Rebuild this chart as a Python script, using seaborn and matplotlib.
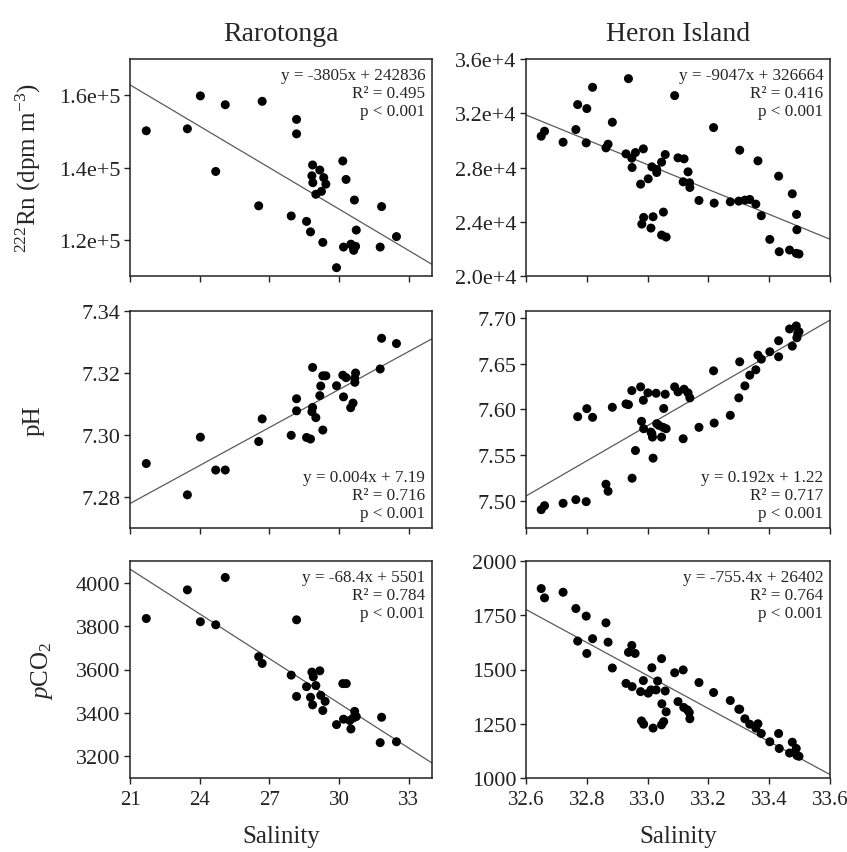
import numpy as np
import pandas as pd
import matplotlib
matplotlib.use("Agg")
import matplotlib.pyplot as plt
from matplotlib.ticker import FuncFormatter, FixedLocator
import seaborn as sns

# ---------------- data ----------------
# Rarotonga: 222Rn vs salinity
raro_rn_sal = [21.7, 23.47, 24.03, 25.1, 26.69, 24.69, 26.54, 28.17, 28.17, 28.86,
               29.17, 28.83, 28.87, 29.34, 29.43, 29.24, 29.0, 30.16, 30.3, 30.66,
               31.83, 27.94, 28.6, 28.77, 29.3, 30.74, 32.47, 30.19, 30.51, 30.6,
               30.71, 30.63, 31.77, 29.89]
raro_rn_val = [150150, 150700, 159800, 157350, 158300, 138900, 129400, 153300, 149300, 140700,
               139300, 137700, 135800, 137200, 135400, 133400, 132600, 141800, 136700, 131000,
               129200, 126600, 125100, 122200, 119300, 122700, 120900, 118000, 118800, 118000,
               118200, 117100, 118000, 112300]

# Rarotonga: pH vs salinity
raro_ph_sal = [21.7, 23.47, 24.03, 24.69, 25.1, 26.54, 26.69, 27.94, 28.17, 28.17,
               28.6, 28.77, 28.86, 28.86, 28.83, 29.0, 29.17, 29.21, 29.3, 29.3,
               29.43, 29.89, 30.16, 30.3, 30.19, 30.71, 30.67, 30.68, 30.5, 30.6,
               31.77, 31.83, 32.47]
raro_ph_val = [7.2908, 7.2807, 7.2993, 7.2887, 7.2887, 7.2979, 7.3052, 7.2999, 7.3117, 7.3078,
               7.2992, 7.2987, 7.3218, 7.3089, 7.3075, 7.3056, 7.3127, 7.3158, 7.3016, 7.3191,
               7.3191, 7.3159, 7.3193, 7.3185, 7.3123, 7.3200, 7.3183, 7.3170, 7.3088, 7.3103,
               7.3213, 7.3312, 7.3295]

# Rarotonga: pCO2 vs salinity
raro_co2_sal = [21.7, 23.47, 24.03, 24.69, 25.1, 26.54, 26.69, 28.17, 27.94, 28.17,
                28.6, 28.77, 28.86, 28.83, 28.89, 29.17, 29.0, 29.21, 29.4, 29.3,
                29.89, 30.16, 30.31, 30.19, 30.51, 30.67, 30.74, 30.6, 30.46, 31.83,
                31.77, 32.47]
raro_co2_val = [3835, 3967, 3820, 3806, 4024, 3659, 3628, 3829, 3574, 3476,
                3521, 3472, 3437, 3588, 3566, 3594, 3526, 3481, 3453, 3411,
                3346, 3535, 3535, 3371, 3326, 3407, 3383, 3376, 3365, 3380,
                3263, 3267]

# Heron Island: 222Rn vs salinity
heron_rn_sal = [32.65, 32.661, 32.722, 32.764, 32.77, 32.8, 32.798, 32.819, 32.863, 32.87,
                32.884, 32.929, 32.937, 32.948, 32.96, 32.949, 32.986, 32.977, 32.987, 32.981,
                33.002, 33.014, 33.03, 33.03, 33.018, 33.011, 33.046, 33.058, 33.052, 33.046,
                33.061, 33.089, 33.1, 33.12, 33.133, 33.117, 33.138, 33.139, 33.169, 33.217,
                33.219, 33.272, 33.303, 33.3, 33.32, 33.336, 33.356, 33.363, 33.374, 33.402,
                33.431, 33.433, 33.467, 33.476, 33.49, 33.491, 33.489, 33.498]
heron_rn_val = [30307, 30675, 29865, 30798, 32638, 32344, 29816, 33914, 29448, 29718,
                31337, 29006, 34552, 28687, 29104, 28000, 29374, 26773, 24319, 23828,
                27166, 28049, 27853, 27632, 24368, 23533, 28393, 28957, 24712, 23018,
                22871, 33301, 28712, 28638, 27681, 26945, 26871, 26528, 25570, 30945,
                25374, 25472, 29276, 25522, 25595, 25644, 25301, 28491, 24442, 22699,
                27362, 21792, 21914, 26061, 24540, 23411, 21669, 21620]

# Heron Island: pH vs salinity
heron_ph_sal = [32.65, 32.661, 32.722, 32.764, 32.798, 32.77, 32.8, 32.819, 32.863, 32.87,
                32.884, 32.929, 32.937, 32.948, 32.949, 32.96, 32.977, 32.986, 32.98, 32.987,
                33.001, 33.011, 33.014, 33.016, 33.018, 33.028, 33.03, 33.037, 33.046, 33.051,
                33.058, 33.053, 33.061, 33.089, 33.1, 33.117, 33.12, 33.133, 33.139, 33.169,
                33.217, 33.219, 33.272, 33.3, 33.303, 33.32, 33.336, 33.356, 33.363, 33.374,
                33.402, 33.431, 33.431, 33.467, 33.476, 33.489, 33.491, 33.494, 33.498]
heron_ph_val = [7.4901, 7.4945, 7.4971, 7.5011, 7.4989, 7.5921, 7.6009, 7.5914, 7.5180, 7.5103,
                7.6024, 7.6061, 7.6053, 7.6207, 7.5246, 7.5550, 7.6248, 7.6101, 7.5870, 7.5789,
                7.6182, 7.5752, 7.5734, 7.5697, 7.5466, 7.6178, 7.5844, 7.5826, 7.5697, 7.5804,
                7.6167, 7.6011, 7.5789, 7.6248, 7.6193, 7.5679, 7.6222, 7.6182, 7.6127, 7.5804,
                7.6424, 7.5851, 7.5936, 7.6127, 7.6523, 7.6259, 7.6376, 7.6435, 7.6596, 7.6552,
                7.6633, 7.6754, 7.6578, 7.6883, 7.6695, 7.6916, 7.6787, 7.6835, 7.6853]

# Heron Island: pCO2 vs salinity
heron_co2_sal = [32.65, 32.661, 32.722, 32.764, 32.798, 32.77, 32.8, 32.819, 32.863, 32.87,
                 32.884, 32.929, 32.937, 32.948, 32.959, 32.949, 32.977, 32.986, 32.98, 32.987,
                 33.002, 33.014, 33.011, 33.018, 33.028, 33.033, 33.046, 33.047, 33.058, 33.061,
                 33.046, 33.053, 33.089, 33.1, 33.117, 33.119, 33.131, 33.137, 33.139, 33.169,
                 33.217, 33.272, 33.3, 33.303, 33.32, 33.336, 33.356, 33.363, 33.374, 33.402,
                 33.431, 33.433, 33.467, 33.476, 33.489, 33.491, 33.498]
heron_co2_val = [1873, 1830, 1856, 1781, 1746, 1631, 1574, 1642, 1715, 1626,
                 1507, 1436, 1579, 1611, 1574, 1421, 1398, 1449, 1263, 1248,
                 1391, 1508, 1406, 1230, 1406, 1447, 1550, 1342, 1401, 1305,
                 1245, 1260, 1485, 1352, 1498, 1325, 1314, 1302, 1273, 1440,
                 1394, 1357, 1317, 1317, 1273, 1248, 1230, 1250, 1205, 1167,
                 1205, 1136, 1115, 1165, 1136, 1104, 1100]

# regression annotations
raro_rn_stats = ["y = -3805x + 242836", "R\u00b2 = 0.495", "p < 0.001"]
raro_ph_stats = ["y = 0.004x + 7.19", "R\u00b2 = 0.716", "p < 0.001"]
raro_co2_stats = ["y = -68.4x + 5501", "R\u00b2 = 0.784", "p < 0.001"]
heron_rn_stats = ["y = -9047x + 326664", "R\u00b2 = 0.416", "p < 0.001"]
heron_ph_stats = ["y = 0.192x + 1.22", "R\u00b2 = 0.717", "p < 0.001"]
heron_co2_stats = ["y = -755.4x + 26402", "R\u00b2 = 0.764", "p < 0.001"]

col_titles = ["Rarotonga", "Heron Island"]
row_labels = [r"$^{222}$Rn (dpm m$^{-3}$)", "pH", r"$\mathit{p}$CO$_2$"]

# ---------------- style ----------------
sns.set_theme(style="ticks")
plt.rcParams["font.family"] = ["Liberation Serif", "DejaVu Serif"]
plt.rcParams["mathtext.fontset"] = "custom"
plt.rcParams["mathtext.rm"] = "Liberation Serif"
plt.rcParams["mathtext.it"] = "Liberation Serif:italic"
plt.rcParams["axes.edgecolor"] = "#222222"
plt.rcParams["axes.linewidth"] = 1.1
plt.rcParams["xtick.major.size"] = 4
plt.rcParams["ytick.major.size"] = 4
plt.rcParams["xtick.major.width"] = 1.0
plt.rcParams["ytick.major.width"] = 1.0
plt.rcParams["xtick.color"] = "#222222"
plt.rcParams["ytick.color"] = "#222222"

W, H = 847, 853
fig = plt.figure(figsize=(W / 100, H / 100), dpi=100)

col_px = [(130, 432), (526, 830)]
row_px = [(60, 277), (312, 529), (562, 779)]


def make_ax(r, c):
    x0, x1 = col_px[c]
    y0, y1 = row_px[r]
    return fig.add_axes([x0 / W, 1 - y1 / H, (x1 - x0) / W, (y1 - y0) / H])


panels = [
    # (row, col, sal, val, stats, ylim, yticks, fmt, text at top?)
    (0, 0, raro_rn_sal, raro_rn_val, raro_rn_stats, (1.1e5, 1.7e5),
     [1.2e5, 1.4e5, 1.6e5], lambda v, p: f"{v / 1e5:.1f}e+5", True),
    (1, 0, raro_ph_sal, raro_ph_val, raro_ph_stats, (7.27, 7.34),
     [7.28, 7.30, 7.32, 7.34], lambda v, p: f"{v:.2f}", False),
    (2, 0, raro_co2_sal, raro_co2_val, raro_co2_stats, (3100, 4100),
     [3200, 3400, 3600, 3800, 4000], lambda v, p: f"{v:.0f}", True),
    (0, 1, heron_rn_sal, heron_rn_val, heron_rn_stats, (2.0e4, 3.6e4),
     [2.0e4, 2.4e4, 2.8e4, 3.2e4, 3.6e4], lambda v, p: f"{v / 1e4:.1f}e+4", True),
    (1, 1, heron_ph_sal, heron_ph_val, heron_ph_stats, (7.47, 7.708),
     [7.50, 7.55, 7.60, 7.65, 7.70], lambda v, p: f"{v:.2f}", False),
    (2, 1, heron_co2_sal, heron_co2_val, heron_co2_stats, (1000, 2000),
     [1000, 1250, 1500, 1750, 2000], lambda v, p: f"{v:.0f}", True),
]

xlims = [(21, 34), (32.6, 33.6)]
xticks = [[21, 24, 27, 30, 33], [32.6, 32.8, 33.0, 33.2, 33.4, 33.6]]
xfmts = [lambda v, p: f"{v:.0f}", lambda v, p: f"{v:.1f}"]
ylabel_x = [-0.288, -0.282, -0.249]

for (r, c, sal, val, stats, ylim, yt, yfmt, top) in panels:
    ax = make_ax(r, c)
    df = pd.DataFrame({"Salinity": sal, "value": val})
    ax.set_xlim(*xlims[c])
    ax.set_ylim(*ylim)
    sns.regplot(data=df, x="Salinity", y="value", ax=ax, ci=None, scatter=False,
                truncate=False, line_kws=dict(color="#5a5a5a", lw=0.9))
    sns.scatterplot(data=df, x="Salinity", y="value", ax=ax, color="black",
                    s=42, edgecolor="none", zorder=3)
    ax.set_xlim(*xlims[c])
    ax.set_ylim(*ylim)
    ax.xaxis.set_major_locator(FixedLocator(xticks[c]))
    ax.xaxis.set_major_formatter(FuncFormatter(xfmts[c]))
    ax.yaxis.set_major_locator(FixedLocator(yt))
    ax.yaxis.set_major_formatter(FuncFormatter(yfmt))
    ax.tick_params(axis="y", labelsize=16, pad=3)
    ax.tick_params(axis="x", labelsize=15, pad=5)

    txt = "\n".join(stats)
    if top:
        ax.text(0.978, 0.965, txt, transform=ax.transAxes, ha="right", va="top",
                fontsize=12.3, linespacing=1.2, multialignment="right")
    else:
        ax.text(0.978, 0.03, txt, transform=ax.transAxes, ha="right", va="bottom",
                fontsize=12.3, linespacing=1.2, multialignment="right")

    if r == 2:
        ax.set_xlabel("Salinity", fontsize=18, labelpad=11)
    else:
        ax.set_xlabel("")
        ax.tick_params(axis="x", labelbottom=False)
    if c == 0:
        ax.set_ylabel(row_labels[r], fontsize=18)
        ax.yaxis.set_label_coords(ylabel_x[r], 0.5)
    else:
        ax.set_ylabel("")
    if r == 0:
        ax.set_title(col_titles[c], fontsize=20, pad=14)

fig.savefig("out.png", dpi=100)
